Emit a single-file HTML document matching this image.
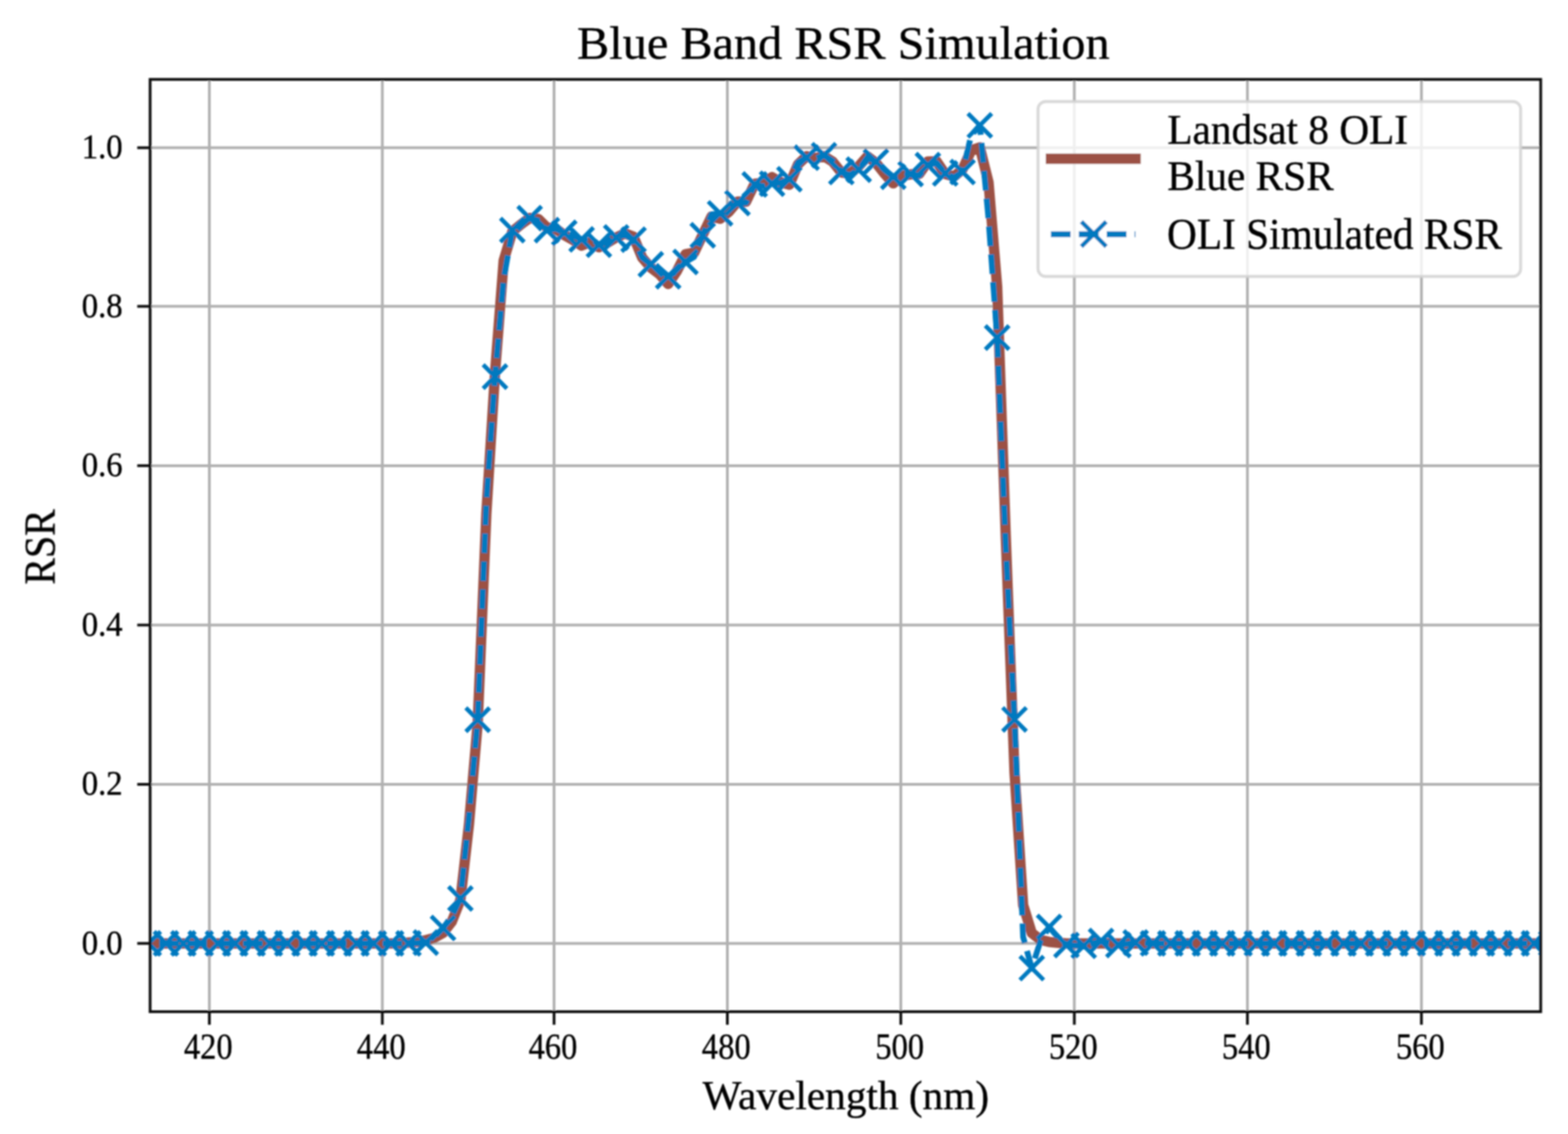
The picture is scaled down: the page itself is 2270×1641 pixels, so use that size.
<!DOCTYPE html>
<html lang="en"><head><meta charset="utf-8"><title>Blue Band RSR Simulation</title>
<style>
html,body{margin:0;padding:0;background:#fff;}
body{width:2270px;height:1641px;overflow:hidden;}
svg{display:block;font-family:'Liberation Serif','DejaVu Serif',serif;}
text{fill:#000;stroke:#000;stroke-width:0.5px;stroke-linejoin:round;}
</style></head><body>
<svg width="2270" height="1641" viewBox="0 0 2270 1641">
<defs>
<clipPath id="axclip"><rect x="217.3" y="114.9" width="2013.2" height="1349.1"/></clipPath>
<filter id="soft" x="-2%" y="-2%" width="104%" height="104%"><feGaussianBlur stdDeviation="1.1"/></filter>
<filter id="softt" x="-5%" y="-20%" width="110%" height="140%"><feGaussianBlur stdDeviation="0.9"/></filter>
</defs>
<rect width="2270" height="1641" fill="#fff"/>
<g filter="url(#soft)">

<g stroke="#b0b0b0" stroke-width="3.98" fill="none">
<line x1="303.1" y1="114.9" x2="303.1" y2="1464.0"/>
<line x1="553.5" y1="114.9" x2="553.5" y2="1464.0"/>
<line x1="802.1" y1="114.9" x2="802.1" y2="1464.0"/>
<line x1="1053.0" y1="114.9" x2="1053.0" y2="1464.0"/>
<line x1="1304.1" y1="114.9" x2="1304.1" y2="1464.0"/>
<line x1="1555.3" y1="114.9" x2="1555.3" y2="1464.0"/>
<line x1="1805.9" y1="114.9" x2="1805.9" y2="1464.0"/>
<line x1="2057.8" y1="114.9" x2="2057.8" y2="1464.0"/>
<line x1="217.3" y1="213.8" x2="2230.5" y2="213.8"/>
<line x1="217.3" y1="443.3" x2="2230.5" y2="443.3"/>
<line x1="217.3" y1="673.9" x2="2230.5" y2="673.9"/>
<line x1="217.3" y1="904.5" x2="2230.5" y2="904.5"/>
<line x1="217.3" y1="1135.0" x2="2230.5" y2="1135.0"/>
<line x1="217.3" y1="1365.2" x2="2230.5" y2="1365.2"/>
</g>
<g clip-path="url(#axclip)" fill="none">
<path d="M190.2,1365.2 L202.7,1365.2 L215.3,1365.2 L227.8,1365.2 L240.3,1365.2 L252.9,1365.2 L265.4,1365.2 L277.9,1365.2 L290.5,1365.2 L303.0,1365.2 L315.5,1365.2 L328.1,1365.2 L340.6,1365.2 L353.1,1365.2 L365.7,1365.2 L378.2,1365.2 L390.7,1365.2 L403.3,1365.2 L415.8,1365.2 L428.3,1365.2 L440.9,1365.2 L453.4,1365.2 L465.9,1365.2 L478.5,1365.2 L491.0,1365.2 L503.5,1365.2 L516.1,1365.2 L528.6,1365.2 L541.1,1365.2 L553.7,1365.2 L566.2,1365.2 L578.7,1365.2 L591.3,1364.0 L603.8,1362.9 L616.4,1360.5 L628.9,1357.1 L641.4,1350.1 L654.0,1334.0 L666.5,1302.4 L679.0,1192.4 L691.6,1046.1 L704.1,743.1 L716.6,540.4 L729.2,376.9 L741.7,335.1 L754.2,324.7 L766.8,315.4 L779.3,316.9 L791.8,329.2 L804.4,330.8 L816.9,340.3 L829.4,347.1 L842.0,355.4 L854.5,350.3 L867.0,357.8 L879.6,351.2 L892.1,343.7 L904.6,337.8 L917.2,342.6 L929.7,372.9 L942.2,387.3 L954.8,396.9 L967.3,411.0 L979.8,392.6 L992.4,367.9 L1004.9,365.7 L1017.4,339.5 L1030.0,313.5 L1042.5,316.5 L1055.0,306.7 L1067.6,291.7 L1080.1,291.8 L1092.6,265.8 L1105.2,264.3 L1117.7,256.4 L1130.2,263.7 L1142.8,267.2 L1155.3,237.9 L1167.8,225.9 L1180.4,229.0 L1192.9,226.1 L1205.4,233.8 L1218.0,249.6 L1230.5,251.3 L1243.1,240.6 L1255.6,226.3 L1268.1,235.7 L1280.7,251.6 L1293.2,265.4 L1305.7,254.4 L1318.3,252.3 L1330.8,251.7 L1343.3,233.8 L1355.9,233.5 L1368.4,251.9 L1380.9,255.4 L1393.5,245.0 L1406.0,217.6 L1418.5,213.2 L1431.1,263.9 L1443.6,414.8 L1456.1,777.7 L1468.7,1117.5 L1481.2,1309.7 L1493.7,1350.2 L1506.3,1360.0 L1518.8,1363.1 L1531.3,1364.3 L1543.9,1365.2 L1556.4,1365.2 L1568.9,1365.2 L1581.5,1365.2 L1594.0,1365.2 L1606.5,1365.2 L1619.1,1365.2 L1631.6,1365.2 L1644.1,1365.2 L1656.7,1365.2 L1669.2,1365.2 L1681.7,1365.2 L1694.3,1365.2 L1706.8,1365.2 L1719.3,1365.2 L1731.9,1365.2 L1744.4,1365.2 L1756.9,1365.2 L1769.5,1365.2 L1782.0,1365.2 L1794.5,1365.2 L1807.1,1365.2 L1819.6,1365.2 L1832.1,1365.2 L1844.7,1365.2 L1857.2,1365.2 L1869.8,1365.2 L1882.3,1365.2 L1894.8,1365.2 L1907.4,1365.2 L1919.9,1365.2 L1932.4,1365.2 L1945.0,1365.2 L1957.5,1365.2 L1970.0,1365.2 L1982.6,1365.2 L1995.1,1365.2 L2007.6,1365.2 L2020.2,1365.2 L2032.7,1365.2 L2045.2,1365.2 L2057.8,1365.2 L2070.3,1365.2 L2082.8,1365.2 L2095.4,1365.2 L2107.9,1365.2 L2120.4,1365.2 L2133.0,1365.2 L2145.5,1365.2 L2158.0,1365.2 L2170.6,1365.2 L2183.1,1365.2 L2195.6,1365.2 L2208.2,1365.2 L2220.7,1365.2 L2233.2,1365.2 L2245.8,1365.2 L2258.3,1365.2" stroke="#9c5145" stroke-width="14.94" stroke-linejoin="round" stroke-linecap="square"/>
<path d="M190.2,1365.2 L202.7,1365.2 L215.3,1365.2 L227.8,1365.2 L240.3,1365.2 L252.9,1365.2 L265.4,1365.2 L277.9,1365.2 L290.5,1365.2 L303.0,1365.2 L315.5,1365.2 L328.1,1365.2 L340.6,1365.2 L353.1,1365.2 L365.7,1365.2 L378.2,1365.2 L390.7,1365.2 L403.3,1365.2 L415.8,1365.2 L428.3,1365.2 L440.9,1365.2 L453.4,1365.2 L465.9,1365.2 L478.5,1365.2 L491.0,1365.2 L503.5,1365.2 L516.1,1365.2 L528.6,1365.2 L541.1,1365.2 L553.7,1365.2 L566.2,1365.2 L578.7,1365.2 L591.3,1365.2 L603.8,1364.6 L616.4,1364.0 L628.9,1356.0 L641.4,1342.9 L654.0,1326.0 L666.5,1300.2 L679.0,1180.9 L691.6,1041.5 L704.1,725.8 L716.6,545.0 L729.2,403.3 L741.7,333.0 L754.2,323.8 L766.8,315.7 L779.3,319.0 L791.8,333.0 L804.4,331.0 L816.9,336.9 L829.4,340.9 L842.0,346.4 L854.5,344.0 L867.0,354.2 L879.6,349.4 L892.1,343.6 L904.6,339.9 L917.2,346.8 L929.7,372.6 L942.2,382.5 L954.8,389.0 L967.3,399.8 L979.8,392.6 L992.4,379.1 L1004.9,371.8 L1017.4,340.5 L1030.0,310.2 L1042.5,308.8 L1055.0,304.0 L1067.6,293.8 L1080.1,293.4 L1092.6,266.9 L1105.2,269.6 L1117.7,265.8 L1130.2,264.4 L1142.8,259.3 L1155.3,235.0 L1167.8,228.2 L1180.4,229.4 L1192.9,224.7 L1205.4,232.8 L1218.0,248.9 L1230.5,253.4 L1243.1,245.5 L1255.6,227.9 L1268.1,233.9 L1280.7,245.9 L1293.2,255.8 L1305.7,249.4 L1318.3,251.8 L1330.8,254.0 L1343.3,239.0 L1355.9,235.5 L1368.4,250.9 L1380.9,256.8 L1393.5,248.9 L1406.0,195.9 L1418.5,181.4 L1431.1,316.9 L1443.6,488.5 L1456.1,792.7 L1468.7,1041.1 L1481.2,1356.0 L1493.7,1400.9 L1506.3,1361.7 L1518.8,1341.5 L1531.3,1356.0 L1543.9,1367.5 L1556.4,1368.1 L1568.9,1368.7 L1581.5,1365.2 L1594.0,1361.7 L1606.5,1364.6 L1619.1,1367.5 L1631.6,1365.8 L1644.1,1364.0 L1656.7,1364.6 L1669.2,1365.2 L1681.7,1365.2 L1694.3,1365.2 L1706.8,1365.2 L1719.3,1365.2 L1731.9,1365.2 L1744.4,1365.2 L1756.9,1365.2 L1769.5,1365.2 L1782.0,1365.2 L1794.5,1365.2 L1807.1,1365.2 L1819.6,1365.2 L1832.1,1365.2 L1844.7,1365.2 L1857.2,1365.2 L1869.8,1365.2 L1882.3,1365.2 L1894.8,1365.2 L1907.4,1365.2 L1919.9,1365.2 L1932.4,1365.2 L1945.0,1365.2 L1957.5,1365.2 L1970.0,1365.2 L1982.6,1365.2 L1995.1,1365.2 L2007.6,1365.2 L2020.2,1365.2 L2032.7,1365.2 L2045.2,1365.2 L2057.8,1365.2 L2070.3,1365.2 L2082.8,1365.2 L2095.4,1365.2 L2107.9,1365.2 L2120.4,1365.2 L2133.0,1365.2 L2145.5,1365.2 L2158.0,1365.2 L2170.6,1365.2 L2183.1,1365.2 L2195.6,1365.2 L2208.2,1365.2 L2220.7,1365.2 L2233.2,1365.2 L2245.8,1365.2 L2258.3,1365.2" stroke="#0079bf" stroke-width="8.40" stroke-linejoin="round" stroke-dasharray="28.6 11.8" stroke-dashoffset="0"/>
<path d="M198.1,1348.0L232.5,1382.4M198.1,1382.4L232.5,1348.0M223.1,1348.0L257.5,1382.4M223.1,1382.4L257.5,1348.0M248.2,1348.0L282.6,1382.4M248.2,1382.4L282.6,1348.0M273.3,1348.0L307.7,1382.4M273.3,1382.4L307.7,1348.0M298.3,1348.0L332.7,1382.4M298.3,1382.4L332.7,1348.0M323.4,1348.0L357.8,1382.4M323.4,1382.4L357.8,1348.0M348.5,1348.0L382.9,1382.4M348.5,1382.4L382.9,1348.0M373.5,1348.0L407.9,1382.4M373.5,1382.4L407.9,1348.0M398.6,1348.0L433.0,1382.4M398.6,1382.4L433.0,1348.0M423.7,1348.0L458.1,1382.4M423.7,1382.4L458.1,1348.0M448.7,1348.0L483.1,1382.4M448.7,1382.4L483.1,1348.0M473.8,1348.0L508.2,1382.4M473.8,1382.4L508.2,1348.0M498.9,1348.0L533.3,1382.4M498.9,1382.4L533.3,1348.0M523.9,1348.0L558.3,1382.4M523.9,1382.4L558.3,1348.0M549.0,1348.0L583.4,1382.4M549.0,1382.4L583.4,1348.0M574.1,1348.0L608.5,1382.4M574.1,1382.4L608.5,1348.0M599.1,1346.8L633.6,1381.2M599.1,1381.2L633.6,1346.8M624.2,1325.7L658.6,1360.1M624.2,1360.1L658.6,1325.7M649.3,1283.0L683.7,1317.4M649.3,1317.4L683.7,1283.0M674.4,1024.3L708.8,1058.7M674.4,1058.7L708.8,1024.3M699.4,527.8L733.8,562.2M699.4,562.2L733.8,527.8M724.5,315.8L758.9,350.2M724.5,350.2L758.9,315.8M749.6,298.5L784.0,332.9M749.6,332.9L784.0,298.5M774.6,315.8L809.0,350.2M774.6,350.2L809.0,315.8M799.7,319.7L834.1,354.1M799.7,354.1L834.1,319.7M824.8,329.2L859.2,363.6M824.8,363.6L859.2,329.2M849.8,337.0L884.2,371.4M849.8,371.4L884.2,337.0M874.9,326.4L909.3,360.8M874.9,360.8L909.3,326.4M900.0,329.6L934.4,364.0M900.0,364.0L934.4,329.6M925.0,365.3L959.4,399.7M925.0,399.7L959.4,365.3M950.1,382.6L984.5,417.0M950.1,417.0L984.5,382.6M975.2,361.9L1009.6,396.3M975.2,396.3L1009.6,361.9M1000.2,323.3L1034.6,357.7M1000.2,357.7L1034.6,323.3M1025.3,291.6L1059.7,326.0M1025.3,326.0L1059.7,291.6M1050.4,276.6L1084.8,311.0M1050.4,311.0L1084.8,276.6M1075.4,249.7L1109.8,284.1M1075.4,284.1L1109.8,249.7M1100.5,248.6L1134.9,283.0M1100.5,283.0L1134.9,248.6M1125.6,242.1L1160.0,276.5M1125.6,276.5L1160.0,242.1M1150.6,211.0L1185.0,245.4M1150.6,245.4L1185.0,211.0M1175.7,207.5L1210.1,241.9M1175.7,241.9L1210.1,207.5M1200.8,231.7L1235.2,266.1M1200.8,266.1L1235.2,231.7M1225.9,228.3L1260.3,262.7M1225.9,262.7L1260.3,228.3M1250.9,216.7L1285.3,251.1M1250.9,251.1L1285.3,216.7M1276.0,238.6L1310.4,273.0M1276.0,273.0L1310.4,238.6M1301.1,234.6L1335.5,269.0M1301.1,269.0L1335.5,234.6M1326.1,221.8L1360.5,256.2M1326.1,256.2L1360.5,221.8M1351.2,233.7L1385.6,268.1M1351.2,268.1L1385.6,233.7M1376.3,231.7L1410.7,266.1M1376.3,266.1L1410.7,231.7M1401.3,164.2L1435.7,198.6M1401.3,198.6L1435.7,164.2M1426.4,471.3L1460.8,505.7M1426.4,505.7L1460.8,471.3M1451.5,1023.9L1485.9,1058.3M1451.5,1058.3L1485.9,1023.9M1476.5,1383.7L1510.9,1418.1M1476.5,1418.1L1510.9,1383.7M1501.6,1324.3L1536.0,1358.7M1501.6,1358.7L1536.0,1324.3M1526.7,1350.3L1561.1,1384.7M1526.7,1384.7L1561.1,1350.3M1551.7,1351.5L1586.1,1385.9M1551.7,1385.9L1586.1,1351.5M1576.8,1344.5L1611.2,1378.9M1576.8,1378.9L1611.2,1344.5M1601.9,1350.3L1636.3,1384.7M1601.9,1384.7L1636.3,1350.3M1626.9,1346.8L1661.3,1381.2M1626.9,1381.2L1661.3,1346.8M1652.0,1348.0L1686.4,1382.4M1652.0,1382.4L1686.4,1348.0M1677.1,1348.0L1711.5,1382.4M1677.1,1382.4L1711.5,1348.0M1702.1,1348.0L1736.5,1382.4M1702.1,1382.4L1736.5,1348.0M1727.2,1348.0L1761.6,1382.4M1727.2,1382.4L1761.6,1348.0M1752.3,1348.0L1786.7,1382.4M1752.3,1382.4L1786.7,1348.0M1777.3,1348.0L1811.7,1382.4M1777.3,1382.4L1811.7,1348.0M1802.4,1348.0L1836.8,1382.4M1802.4,1382.4L1836.8,1348.0M1827.5,1348.0L1861.9,1382.4M1827.5,1382.4L1861.9,1348.0M1852.5,1348.0L1887.0,1382.4M1852.5,1382.4L1887.0,1348.0M1877.6,1348.0L1912.0,1382.4M1877.6,1382.4L1912.0,1348.0M1902.7,1348.0L1937.1,1382.4M1902.7,1382.4L1937.1,1348.0M1927.8,1348.0L1962.2,1382.4M1927.8,1382.4L1962.2,1348.0M1952.8,1348.0L1987.2,1382.4M1952.8,1382.4L1987.2,1348.0M1977.9,1348.0L2012.3,1382.4M1977.9,1382.4L2012.3,1348.0M2003.0,1348.0L2037.4,1382.4M2003.0,1382.4L2037.4,1348.0M2028.0,1348.0L2062.4,1382.4M2028.0,1382.4L2062.4,1348.0M2053.1,1348.0L2087.5,1382.4M2053.1,1382.4L2087.5,1348.0M2078.2,1348.0L2112.6,1382.4M2078.2,1382.4L2112.6,1348.0M2103.2,1348.0L2137.6,1382.4M2103.2,1382.4L2137.6,1348.0M2128.3,1348.0L2162.7,1382.4M2128.3,1382.4L2162.7,1348.0M2153.4,1348.0L2187.8,1382.4M2153.4,1382.4L2187.8,1348.0M2178.4,1348.0L2212.8,1382.4M2178.4,1382.4L2212.8,1348.0M2203.5,1348.0L2237.9,1382.4M2203.5,1382.4L2237.9,1348.0M2228.6,1348.0L2263.0,1382.4M2228.6,1382.4L2263.0,1348.0" stroke="#0079bf" stroke-width="6.2" stroke-linecap="butt"/>
</g>
<g stroke="#111" stroke-width="3.98">
<line x1="303.1" y1="1464.0" x2="303.1" y2="1482.9"/>
<line x1="553.5" y1="1464.0" x2="553.5" y2="1482.9"/>
<line x1="802.1" y1="1464.0" x2="802.1" y2="1482.9"/>
<line x1="1053.0" y1="1464.0" x2="1053.0" y2="1482.9"/>
<line x1="1304.1" y1="1464.0" x2="1304.1" y2="1482.9"/>
<line x1="1555.3" y1="1464.0" x2="1555.3" y2="1482.9"/>
<line x1="1805.9" y1="1464.0" x2="1805.9" y2="1482.9"/>
<line x1="2057.8" y1="1464.0" x2="2057.8" y2="1482.9"/>
<line x1="217.3" y1="213.8" x2="198.7" y2="213.8"/>
<line x1="217.3" y1="443.3" x2="198.7" y2="443.3"/>
<line x1="217.3" y1="673.9" x2="198.7" y2="673.9"/>
<line x1="217.3" y1="904.5" x2="198.7" y2="904.5"/>
<line x1="217.3" y1="1135.0" x2="198.7" y2="1135.0"/>
<line x1="217.3" y1="1365.2" x2="198.7" y2="1365.2"/>
</g>
<rect x="217.3" y="114.9" width="2013.2" height="1349.1" fill="none" stroke="#111" stroke-width="3.98" stroke-linejoin="miter"/>
</g><g filter="url(#softt)">
<g font-size="49.80" text-anchor="middle">
<text transform="translate(301.5,1532.2) scale(0.945,1.04)">420</text>
<text transform="translate(551.9,1532.2) scale(0.945,1.04)">440</text>
<text transform="translate(800.5,1532.2) scale(0.945,1.04)">460</text>
<text transform="translate(1051.4,1532.2) scale(0.945,1.04)">480</text>
<text transform="translate(1302.5,1532.2) scale(0.945,1.04)">500</text>
<text transform="translate(1553.7,1532.2) scale(0.945,1.04)">520</text>
<text transform="translate(1804.3,1532.2) scale(0.945,1.04)">540</text>
<text transform="translate(2056.2,1532.2) scale(0.945,1.04)">560</text>
</g>
<g font-size="49.80" text-anchor="end">
<text transform="translate(177.6,229.2) scale(0.955,1.03)">1.0</text>
<text transform="translate(177.6,458.7) scale(0.955,1.03)">0.8</text>
<text transform="translate(177.6,689.3) scale(0.955,1.03)">0.6</text>
<text transform="translate(177.6,919.9) scale(0.955,1.03)">0.4</text>
<text transform="translate(177.6,1150.4) scale(0.955,1.03)">0.2</text>
<text transform="translate(177.6,1380.6) scale(0.955,1.03)">0.0</text>
</g>
<text transform="translate(1224.4,1604.8) scale(1,0.975)" font-size="59.76" text-anchor="middle">Wavelength (nm)</text>
<text transform="translate(78.8,791.5) rotate(-90) scale(0.965,1.05)" font-size="59.76" text-anchor="middle">RSR</text>
<text transform="translate(1220.9,84.6) scale(1,0.97)" font-size="69.93" text-anchor="middle">Blue Band RSR Simulation</text>
</g><g filter="url(#soft)">
<rect x="1502.8" y="147.0" width="698.6" height="253.0" rx="11" ry="11" fill="#fff" fill-opacity="0.8" stroke="#d2d2d2" stroke-opacity="0.85" stroke-width="4.4"/>
<line x1="1521.4" y1="229.7" x2="1644.0" y2="229.7" stroke="#9c5145" stroke-width="14.94" stroke-linecap="square"/>
<line x1="1521.4" y1="339.0" x2="1644.0" y2="339.0" stroke="#0079bf" stroke-width="8.40" stroke-dasharray="28.6 11.8"/>
<path d="M1565.5,320.8L1601.5,356.8M1565.5,356.8L1601.5,320.8" stroke="#0079bf" stroke-width="6.2" fill="none"/>
</g><g filter="url(#softt)"><g font-size="59.76">
<text transform="translate(1690.0,207.6) scale(1,1.03)">Landsat 8 OLI</text>
<text transform="translate(1690.0,275.0) scale(1,1.03)">Blue RSR</text>
<text transform="translate(1689.6,359.6) scale(1,1.045)">OLI Simulated RSR</text>
</g>
</g></svg></body></html>
